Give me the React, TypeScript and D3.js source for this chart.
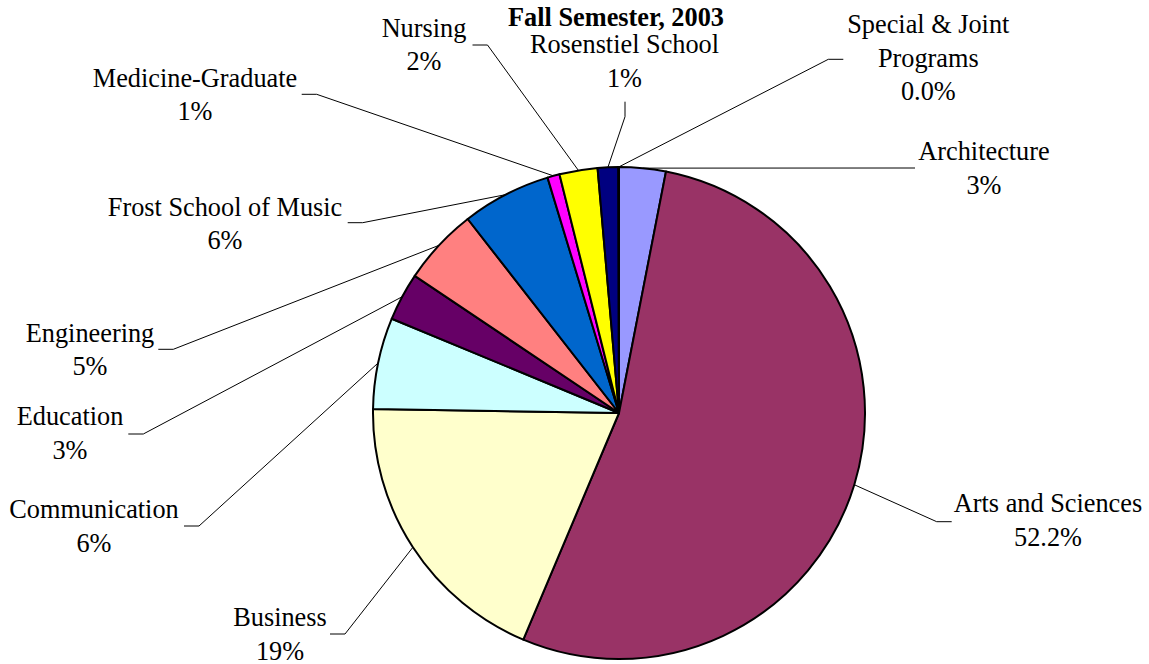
import React from 'react';
import * as d3 from 'd3';

// enrollment share by school, Fall Semester 2003
const schools = [
  'Architecture',
  'Arts and Sciences',
  'Business',
  'Communication',
  'Education',
  'Engineering',
  'Frost School of Music',
  'Medicine-Graduate',
  'Nursing',
  'Rosenstiel School',
  'Special & Joint Programs',
];
const shares = [3.06, 53.3, 18.9, 6.0, 3.15, 5.05, 5.85, 0.8, 2.5, 1.35, 0.04];
const shareLabels = ['3%', '52.2%', '19%', '6%', '3%', '5%', '6%', '1%', '2%', '1%', '0.0%'];
const sliceColors = [
  '#9999FF', '#993366', '#FFFFCC', '#CCFFFF', '#660066', '#FF8080',
  '#0066CC', '#FF00FF', '#FFFF00', '#000080', '#00FFFF',
];

// label placement (Excel put these by hand, so do we)
type Tail = 'l' | 'r' | 'u';
interface LabelSpot { x: number; y: number; ex: number; ey: number; tail: Tail; split?: number }
const labelSpots: LabelSpot[] = [
  { x: 984, y: 160, ex: 900, ey: 168, tail: 'r' },
  { x: 1048, y: 512, ex: 936.7, ey: 521.7, tail: 'r' },
  { x: 280, y: 626, ex: 345, ey: 634, tail: 'l' },
  { x: 94, y: 518, ex: 199, ey: 526, tail: 'l' },
  { x: 70, y: 425, ex: 143.3, ey: 434, tail: 'l' },
  { x: 90, y: 341.5, ex: 173.3, ey: 349.3, tail: 'l' },
  { x: 225, y: 215.5, ex: 362.7, ey: 222.7, tail: 'l' },
  { x: 195, y: 86.7, ex: 316.7, ey: 94.3, tail: 'l' },
  { x: 424, y: 36.7, ex: 487.5, ey: 45, tail: 'l' },
  { x: 624.5, y: 53.3, ex: 625, ey: 116.7, tail: 'u' },
  { x: 928.3, y: 33.3, ex: 828.3, ey: 59.3, tail: 'r', split: 3 },
];

const W = 1149;
const H = 664;
const cx = 619;
const cy = 413;
const radius = 246;
const fontSize = 26.3;
const lineH = 33.5;
const tailLen = 15;

interface Row { name: string; value: number; pct: string; color: string }

const App: React.FC = () => {
  const rows: Row[] = schools.map((name, i) => ({
    name,
    value: shares[i],
    pct: shareLabels[i],
    color: sliceColors[i],
  }));

  const pie = d3.pie<Row>().value(d => d.value).sort(null);
  const arcs = pie(rows);
  const arc = d3.arc<d3.PieArcDatum<Row>>().innerRadius(0).outerRadius(radius);
  const rim = d3.arc<d3.PieArcDatum<Row>>().innerRadius(radius).outerRadius(radius);

  const font = '"Liberation Serif", "Times New Roman", serif';

  return (
    <svg
      width={W}
      height={H}
      style={{ position: 'absolute', left: 0, top: 0, background: '#fff' }}
      fontFamily={font}
    >
      {/* leader lines */}
      <g transform={`translate(${cx},${cy})`} fill="none" stroke="#000" strokeWidth={1}>
        {arcs.map((a, i) => {
          const s = labelSpots[i];
          const [px, py] = rim.centroid(a);
          const ex = s.ex - cx;
          const ey = s.ey - cy;
          let tx = ex;
          let ty = ey;
          if (s.tail === 'l') tx = ex - tailLen;
          else if (s.tail === 'r') tx = ex + tailLen;
          else ty = ey - tailLen;
          return (
            <polyline key={a.data.name} points={`${px},${py} ${ex},${ey} ${tx},${ty}`} />
          );
        })}
      </g>

      {/* slices */}
      <g transform={`translate(${cx},${cy})`}>
        {arcs.map(a => (
          <path
            key={a.data.name}
            d={arc(a) || ''}
            fill={a.data.color}
            stroke="#000"
            strokeWidth={2}
            strokeLinejoin="round"
          />
        ))}
      </g>

      {/* labels */}
      <g fontSize={fontSize} fill="#000" textAnchor="middle">
        {rows.map((r, i) => {
          const s = labelSpots[i];
          const words = r.name.split(' ');
          const lines = s.split
            ? [words.slice(0, s.split).join(' '), words.slice(s.split).join(' '), r.pct]
            : [r.name, r.pct];
          return (
            <text key={r.name} x={s.x} y={s.y}>
              {lines.map((t, j) => (
                <tspan key={j} x={s.x} dy={j === 0 ? 0 : lineH}>
                  {t}
                </tspan>
              ))}
            </text>
          );
        })}
      </g>

      <text x={616} y={26} textAnchor="middle" fontSize={fontSize} fontWeight="bold">
        Fall Semester, 2003
      </text>
    </svg>
  );
};

export default App;
